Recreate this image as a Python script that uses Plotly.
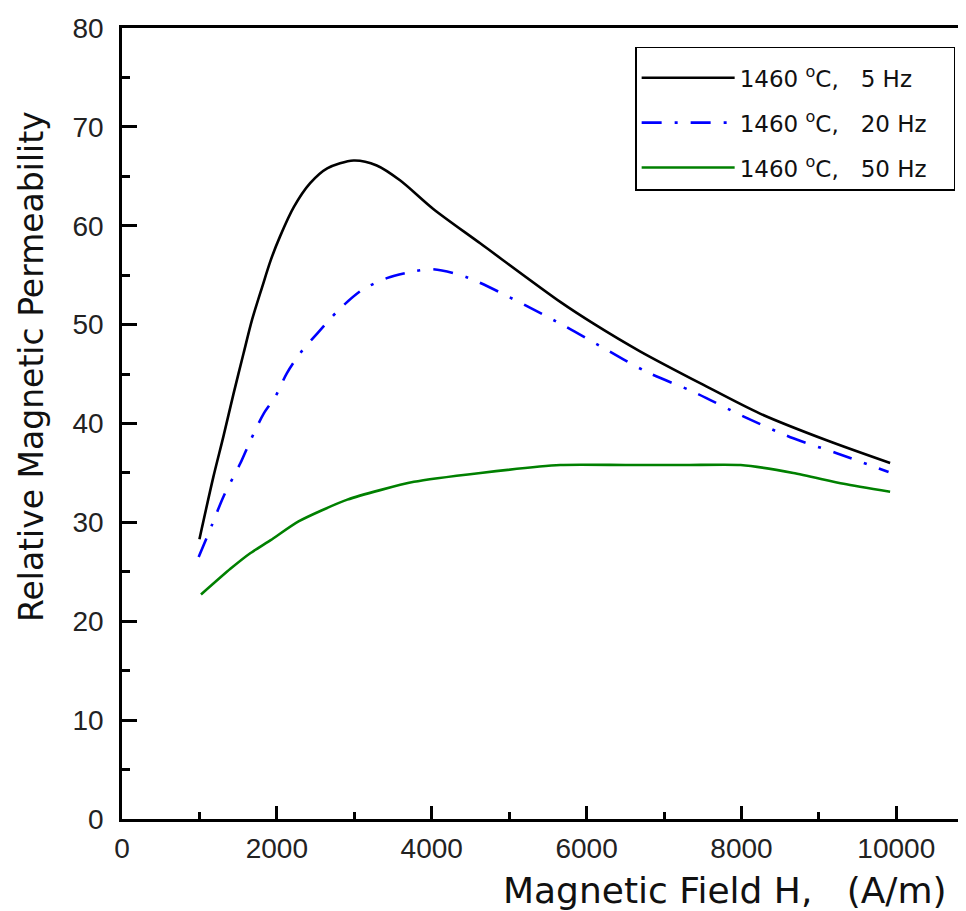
import plotly.graph_objects as go

# ---- data ----
x_5hz = [1000, 1180, 1310, 1440, 1570, 1680, 1810, 1920, 2040, 2220, 2430, 2650, 2990, 3290, 3590, 4020, 4630, 5660, 6090, 6690, 7510, 8240, 9100, 9920]
y_5hz = [28.3, 34.6, 38.7, 43.0, 47.1, 50.5, 53.8, 56.5, 58.9, 61.9, 64.3, 65.8, 66.6, 66.1, 64.6, 61.7, 58.2, 52.3, 50.1, 47.3, 43.9, 41.0, 38.3, 36.0]

x_20hz = [990, 1160, 1310, 1530, 1660, 1830, 1980, 2130, 2300, 2520, 2800, 3100, 3420, 3770, 4020, 4450, 5660, 6180, 6780, 7380, 8030, 8670, 9230, 9900]
y_20hz = [26.5, 29.7, 32.6, 36.0, 38.3, 41.0, 42.7, 45.1, 47.1, 49.1, 51.5, 53.5, 54.7, 55.4, 55.6, 54.8, 50.1, 47.8, 45.2, 43.2, 40.7, 38.5, 37.0, 35.1]

x_50hz = [1020, 1400, 1660, 1920, 2280, 2910, 3770, 4630, 5660, 6500, 7300, 7990, 8670, 9320, 9920]
y_50hz = [22.7, 25.3, 26.9, 28.2, 30.1, 32.3, 34.1, 35.0, 35.8, 35.8, 35.8, 35.8, 35.0, 33.9, 33.1]

names = ["1460 <sup>o</sup>C,\u00a0\u00a0 5 Hz\u00a0\u00a0\u00a0\u00a0",
         "1460 <sup>o</sup>C,\u00a0\u00a0 20 Hz\u00a0\u00a0\u00a0",
         "1460 <sup>o</sup>C,\u00a0\u00a0 50 Hz\u00a0\u00a0\u00a0"]

x_tickvals = [0, 2000, 4000, 6000, 8000, 10000]
y_tickvals = [0, 10, 20, 30, 40, 50, 60, 70, 80]

x_title = "Magnetic Field H,\u00a0\u00a0\u00a0(A/m)"
y_title = "Relative Magnetic Permeability"

fig = go.Figure()
fig.add_trace(go.Scatter(x=x_5hz, y=y_5hz, mode="lines", name=names[0], legendgroup="a",
                         line=dict(color="#000000", width=2.6, shape="spline", smoothing=0.8)))
fig.add_trace(go.Scatter(x=x_20hz, y=y_20hz, mode="lines", name=names[1], legendgroup="b",
                         line=dict(color="#0000ff", width=2.6, shape="spline", smoothing=0.8,
                                   dash="20px,13px,3px,13px")))
fig.add_trace(go.Scatter(x=x_50hz, y=y_50hz, mode="lines", name=names[2], legendgroup="c",
                         line=dict(color="#008000", width=2.6, shape="spline", smoothing=0.6)))

tick_font = dict(family="Liberation Sans, Arial, sans-serif", size=28, color="#222222")
title_font = dict(family="DejaVu Sans, sans-serif", size=33, color="#111111")

fig.update_layout(
    width=958, height=903,
    margin=dict(l=114, r=0, t=20, b=92),
    paper_bgcolor="white", plot_bgcolor="white",
    showlegend=True,
    legend=dict(
        x=0.608, y=0.976, xanchor="left", yanchor="top",
        bgcolor="white", bordercolor="#000000", borderwidth=1.5,
        font=dict(family="DejaVu Sans, sans-serif", size=23, color="#111111"),
        traceorder="grouped", tracegroupgap=12, itemwidth=93,
        title=dict(text=" ", font=dict(size=6)),
    ),
    xaxis=dict(
        range=[0, 10900], tickvals=x_tickvals, ticktext=[str(v) for v in x_tickvals],
        showgrid=False, zeroline=False,
        showline=True, linecolor="#000000", linewidth=2.5, mirror=True,
        ticks="inside", ticklen=13, tickwidth=2.5, tickcolor="#000000",
        minor=dict(ticks="inside", ticklen=7, tickwidth=2.5, tickcolor="#000000", dtick=1000, tick0=0, showgrid=False),
        tickfont=tick_font, ticklabelstandoff=3,
    ),
    yaxis=dict(
        range=[0, 80], tickvals=y_tickvals, ticktext=[str(v) for v in y_tickvals],
        showgrid=False, zeroline=False,
        showline=True, linecolor="#000000", linewidth=2.5, mirror=False,
        ticks="inside", ticklen=15, tickwidth=2.5, tickcolor="#000000",
        minor=dict(ticks="inside", ticklen=8, tickwidth=2.5, tickcolor="#000000", dtick=5, tick0=0, showgrid=False),
        tickfont=tick_font, ticklabelstandoff=10,
    ),
    annotations=[
        dict(text=x_title, xref="paper", yref="paper", x=0.7145, y=-0.0898,
             xanchor="center", yanchor="middle", showarrow=False,
             font=dict(family="DejaVu Sans, sans-serif", size=36, color="#111111")),
        dict(text=y_title, xref="paper", yref="paper", x=-0.1078, y=0.5714,
             xanchor="center", yanchor="middle", showarrow=False, textangle=-90,
             font=title_font),
    ],
)

fig.write_html("out.html")
